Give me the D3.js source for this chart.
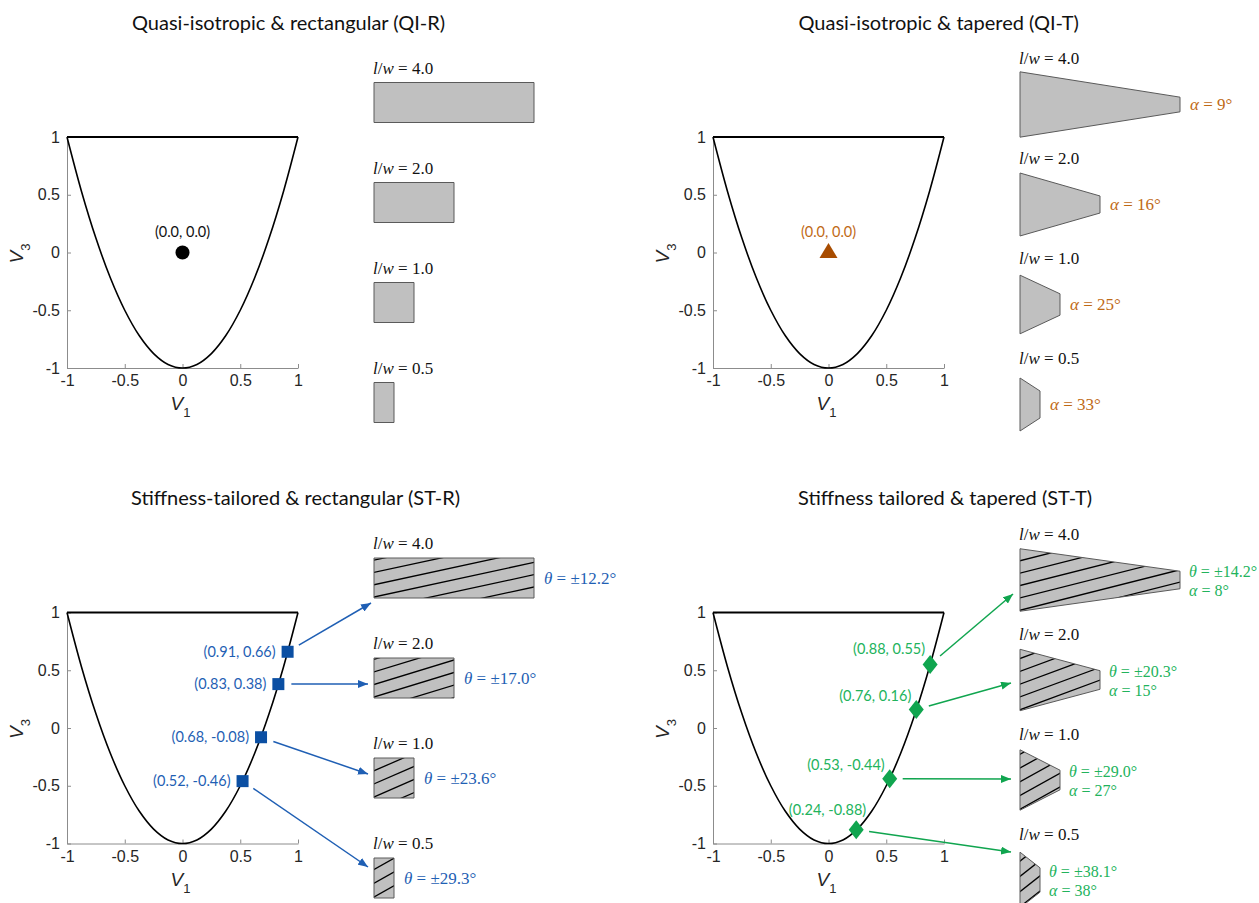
<!DOCTYPE html>
<html>
<head>
<meta charset="utf-8">
<title>Lamination parameter design space</title>
<style>
  body { margin: 0; background: #fff; }
  svg { display: block; }
  .tick text { font-family: "Liberation Sans", Arial, sans-serif; font-size: 16px; fill: #262626; }
  .domain, .tick line { stroke: #8c8c8c; stroke-width: 1; }
  .title { font-family: Lato, "Open Sans", sans-serif; font-size: 20px; fill: #111; }
  .ann { font-family: Lato, "Open Sans", sans-serif; font-size: 14.5px; }
  .math { font-family: "Liberation Serif", serif; font-size: 17px; }
  .math.small { font-size: 16px; }
  .axlab { font-family: "Liberation Sans", Arial, sans-serif; fill: #262626; }
</style>
</head>
<body>
<div id="chart"></div>
<script src="https://d3js.org/d3.v7.min.js"></script>
<script>

// ---- data ----
var titles = ["Quasi-isotropic & rectangular (QI-R)", "Quasi-isotropic & tapered (QI-T)",
              "Stiffness-tailored & rectangular (ST-R)", "Stiffness tailored & tapered (ST-T)"];
var ticks = [-1, -0.5, 0, 0.5, 1];
var ratios = [4.0, 2.0, 1.0, 0.5];
var ratioLabels = ["4.0", "2.0", "1.0", "0.5"];

// feasible region boundary (lower parabola, top edge at V3 = 1)
var boundaryV1 = [-1, -0.875, -0.75, -0.625, -0.5, -0.375, -0.25, -0.125, 0, 0.125, 0.25, 0.375, 0.5, 0.625, 0.75, 0.875, 1];
var boundaryV3 = [1, 0.531, 0.125, -0.219, -0.5, -0.719, -0.875, -0.969, -1, -0.969, -0.875, -0.719, -0.5, -0.219, 0.125, 0.531, 1];

// QI designs
var qiV1 = [0.0], qiV3 = [0.0];
var qiTaperAlpha = [9, 16, 25, 33];

// ST rectangular
var strV1 = [0.91, 0.83, 0.68, 0.52];
var strV3 = [0.66, 0.38, -0.08, -0.46];
var strTheta = ["12.2", "17.0", "23.6", "29.3"];

// ST tapered
var sttV1 = [0.88, 0.76, 0.53, 0.24];
var sttV3 = [0.55, 0.16, -0.44, -0.88];
var sttTheta = ["14.2", "20.3", "29.0", "38.1"];
var sttAlpha = [8, 15, 27, 38];

// ---- layout ----
var W = 1259, H = 903, plotSize = 231;
var blue = "#0b4fa3", blueText = "#1f5fb4";
var green = "#10a54f", greenText = "#22b35c";
var brown = "#a84c00", brownText = "#bf6a16";

var svg = d3.select("#chart").append("svg").attr("width", W).attr("height", H);
var defs = svg.append("defs");

var x = d3.scaleLinear().domain([-1, 1]).range([0, plotSize]);
var y = d3.scaleLinear().domain([-1, 1]).range([plotSize, 0]);
var unit = d3.scaleLinear().domain([0, 1]).range([0, 40]);   // planform width w = 40px

[["arrBlue", blueText], ["arrGreen", green]].forEach(function (m) {
  defs.append("marker").attr("id", m[0])
    .attr("viewBox", "0 0 10 8").attr("refX", 10).attr("refY", 4)
    .attr("markerUnits", "userSpaceOnUse").attr("markerWidth", 10).attr("markerHeight", 8)
    .attr("orient", "auto")
    .append("path").attr("d", "M0,0L10,4L0,8Z").attr("fill", m[1]);
});

var panels = [
  { left: 67,  top: 137,   title: titles[0], titleX: 132,   taper: false, theta: null,     alpha: null },
  { left: 713, top: 137,   title: titles[1], titleX: 798.5, taper: true,  theta: null,     alpha: qiTaperAlpha, color: brownText },
  { left: 67,  top: 612.5, title: titles[2], titleX: 131,   taper: false, theta: strTheta, alpha: null, color: blueText },
  { left: 713, top: 612.5, title: titles[3], titleX: 798,   taper: true,  theta: sttTheta, alpha: sttAlpha, color: greenText }
];

var boundary = boundaryV1.map(function (v, i) { return [v, boundaryV3[i]]; });
var curve = d3.line().x(function (d) { return x(d[0]); }).y(function (d) { return y(d[1]); })
  .curve(d3.curveCatmullRom);

var shapeLeft = 307;
var clipCount = 0;

function drawAxes(g) {
  g.append("g").attr("transform", "translate(0," + plotSize + ")")
    .call(d3.axisBottom(x).tickValues(ticks).tickSizeInner(-4).tickSizeOuter(0).tickPadding(7)
      .tickFormat(function (d) { return String(d); }));
  g.append("g")
    .call(d3.axisLeft(y).tickValues(ticks).tickSizeInner(-4).tickSizeOuter(0).tickPadding(7)
      .tickFormat(function (d) { return String(d); }));

  var v1 = g.append("text").attr("class", "axlab").attr("x", x(0) - 2).attr("y", plotSize + 42)
    .attr("text-anchor", "middle");
  v1.append("tspan").attr("font-style", "italic").attr("font-size", 19).text("V");
  v1.append("tspan").attr("font-size", 13).attr("dy", 7).text("1");

  var v3 = g.append("text").attr("class", "axlab")
    .attr("transform", "translate(" + (-44) + "," + (y(0) + 1) + ") rotate(-90)")
    .attr("text-anchor", "middle");
  v3.append("tspan").attr("font-style", "italic").attr("font-size", 19).text("V");
  v3.append("tspan").attr("font-size", 13).attr("dy", 7).text("3");
}

function drawBoundary(g) {
  g.append("path").attr("d", curve(boundary)).attr("fill", "none")
    .attr("stroke", "#000").attr("stroke-width", 1.6);
  g.append("line").attr("x1", x(-1)).attr("x2", x(1)).attr("y1", y(1)).attr("y2", y(1))
    .attr("stroke", "#000").attr("stroke-width", 2.2);
}

// planform: rectangle or tapered trapezoid, optional hatching at angle theta
function drawPlanform(g, p, i) {
  var ratio = ratios[i];
  var a = p.alpha ? p.alpha[i] * Math.PI / 180 : 0;
  var L = unit(ratio);
  var root = unit(1 + ratio * Math.tan(a));
  var tip = unit(1 - ratio * Math.tan(a));
  var cy = (p.taper ? -32.5 : -34.5) + i * 100;
  var x0 = shapeLeft;
  var pts = [[x0, cy - root / 2], [x0 + L, cy - tip / 2], [x0 + L, cy + tip / 2], [x0, cy + root / 2]];
  var poly = pts.map(function (q) { return q.join(","); }).join(" ");

  g.append("polygon").attr("points", poly).attr("fill", "#c0c0c0");

  if (p.theta) {
    var id = "clip" + (clipCount++);
    defs.append("clipPath").attr("id", id).append("polygon").attr("points", poly);
    var t = +p.theta[i] * Math.PI / 180, sp = 12;
    var dx = Math.cos(t), dy = -Math.sin(t), nx = -Math.sin(t), ny = -Math.cos(t);
    var hatch = g.append("g").attr("clip-path", "url(#" + id + ")");
    // hatch lines through the bottom-left corner, spaced sp apart
    d3.range(-12, 14).forEach(function (k) {
      var px = x0 + k * sp * nx, py = cy + root / 2 - 1 + k * sp * ny;
      hatch.append("line")
        .attr("x1", px - 300 * dx).attr("y1", py - 300 * dy)
        .attr("x2", px + 300 * dx).attr("y2", py + 300 * dy)
        .attr("stroke", "#000").attr("stroke-width", 1.3);
    });
  }
  g.append("polygon").attr("points", poly).attr("fill", "none")
    .attr("stroke", "#5a5a5a").attr("stroke-width", 1);

  // l/w label
  var lw = g.append("text").attr("class", "math").attr("x", x0 - 1)
    .attr("y", cy + (p.taper ? -40.5 : -29)).attr("fill", "#111");
  lw.append("tspan").attr("font-style", "italic").text("l");
  lw.append("tspan").text("/");
  lw.append("tspan").attr("font-style", "italic").text("w");
  lw.append("tspan").text(" = " + ratioLabels[i]);

  // theta / alpha annotations
  var tx = x0 + L + 10;
  if (p.theta && p.alpha) {
    var t1 = g.append("text").attr("class", "math small").attr("x", tx - 1).attr("y", cy - 3.5).attr("fill", p.color);
    t1.append("tspan").attr("font-style", "italic").text("θ");
    t1.append("tspan").text(" = ±" + p.theta[i] + "°");
    var t2 = g.append("text").attr("class", "math small").attr("x", tx - 1).attr("y", cy + 15.5).attr("fill", p.color);
    t2.append("tspan").attr("font-style", "italic").text("α");
    t2.append("tspan").text(" = " + p.alpha[i] + "°");
  } else if (p.theta) {
    var t3 = g.append("text").attr("class", "math").attr("x", tx).attr("y", cy + 5.5).attr("fill", p.color);
    t3.append("tspan").attr("font-style", "italic").text("θ");
    t3.append("tspan").text(" = ±" + p.theta[i] + "°");
  } else if (p.alpha) {
    var t4 = g.append("text").attr("class", "math").attr("x", tx).attr("y", cy + 5.5).attr("fill", p.color);
    t4.append("tspan").attr("font-style", "italic").text("α");
    t4.append("tspan").text(" = " + p.alpha[i] + "°");
  }
  return { left: x0, cy: cy };
}

function drawArrow(g, mx, my, ex, ey, marker, color) {
  var len = Math.hypot(ex - mx, ey - my);
  var sx = mx + 13 * (ex - mx) / len, sy = my + 13 * (ey - my) / len;
  g.append("line").attr("x1", sx).attr("y1", sy).attr("x2", ex).attr("y2", ey)
    .attr("stroke", color).attr("stroke-width", 1.5).attr("marker-end", "url(#" + marker + ")");
}

panels.forEach(function (p, pi) {
  var g = svg.append("g").attr("transform", "translate(" + p.left + "," + p.top + ")");
  g.append("text").attr("class", "title").attr("x", p.titleX - p.left).attr("y", -107.5).text(p.title);
  drawAxes(g);
  drawBoundary(g);
  var shapes = ratios.map(function (r, i) { return drawPlanform(g, p, i); });

  if (pi === 0) {
    g.selectAll("circle.qi").data(qiV1).enter().append("circle")
      .attr("cx", function (d) { return x(d); }).attr("cy", function (d, i) { return y(qiV3[i]); })
      .attr("r", 7).attr("fill", "#000");
    g.append("text").attr("class", "ann").attr("x", x(qiV1[0])).attr("y", y(qiV3[0]) - 15.5)
      .attr("text-anchor", "middle").attr("fill", "#111").text("(0.0, 0.0)");
  }
  if (pi === 1) {
    g.selectAll("path.qi").data(qiV1).enter().append("path")
      .attr("transform", function (d, i) { return "translate(" + x(d) + "," + y(qiV3[i]) + ")"; })
      .attr("d", "M0,-9.5L9,5.5L-9,5.5Z").attr("fill", brown);
    g.append("text").attr("class", "ann").attr("x", x(qiV1[0])).attr("y", y(qiV3[0]) - 15.5)
      .attr("text-anchor", "middle").attr("fill", brownText).text("(0.0, 0.0)");
  }
  if (pi === 2) {
    var endDx = [-3, -6, -6, -6], endDy = [25, 6, -4, -11];
    strV1.forEach(function (v, i) {
      var mx = x(v), my = y(strV3[i]);
      drawArrow(g, mx, my, shapes[i].left + endDx[i], shapes[i].cy + endDy[i], "arrBlue", blueText);
    });
    g.selectAll("rect.st").data(strV1).enter().append("rect")
      .attr("x", function (d) { return x(d) - 6; })
      .attr("y", function (d, i) { return y(strV3[i]) - 6; })
      .attr("width", 12).attr("height", 12).attr("fill", blue);
    g.selectAll("text.st").data(strV1).enter().append("text").attr("class", "ann")
      .attr("x", function (d) { return x(d) - 12; })
      .attr("y", function (d, i) { return y(strV3[i]) + 5; })
      .attr("text-anchor", "end").attr("fill", blueText)
      .text(function (d, i) { return "(" + d.toFixed(2) + ", " + strV3[i].toFixed(2) + ")"; });
  }
  if (pi === 3) {
    var eDx = [-7, -9, -9, -9], eDy = [14, 3, -1, -28];
    var lDx = [-5, -5, -5, 10], lDy = [-15, -14, -14, -20];
    sttV1.forEach(function (v, i) {
      var mx = x(v), my = y(sttV3[i]);
      drawArrow(g, mx, my, shapes[i].left + eDx[i], shapes[i].cy + eDy[i], "arrGreen", green);
    });
    g.selectAll("path.st").data(sttV1).enter().append("path")
      .attr("transform", function (d, i) { return "translate(" + x(d) + "," + y(sttV3[i]) + ")"; })
      .attr("d", "M0,-9.5L7.5,0L0,9.5L-7.5,0Z").attr("fill", green);
    g.selectAll("text.st").data(sttV1).enter().append("text").attr("class", "ann")
      .attr("x", function (d, i) { return x(d) + lDx[i]; })
      .attr("y", function (d, i) { return y(sttV3[i]) + lDy[i] + 5; })
      .attr("text-anchor", "end").attr("fill", greenText)
      .text(function (d, i) { return "(" + d.toFixed(2) + ", " + sttV3[i].toFixed(2) + ")"; });
  }
});
</script>
</body>
</html>
